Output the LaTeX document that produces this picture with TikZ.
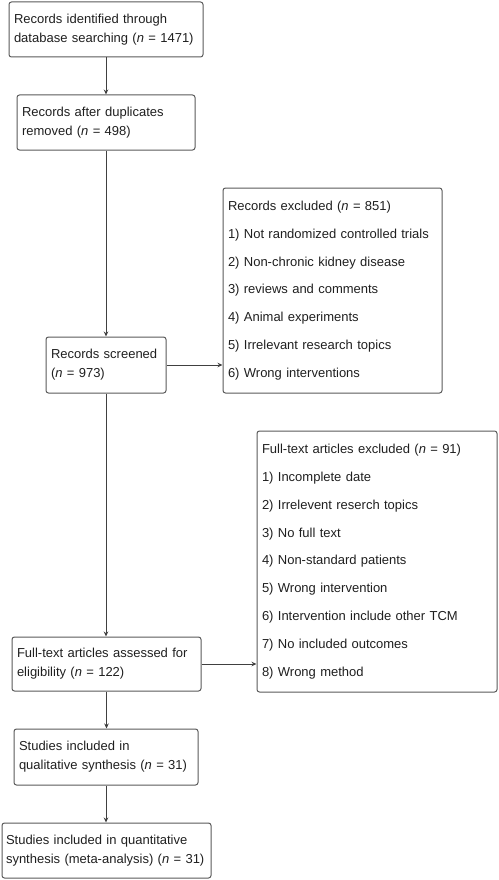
\documentclass[tikz,border=0pt]{standalone}
\usepackage{fontspec}
\setmainfont{Liberation Sans}
\usetikzlibrary{arrows.meta}

\begin{document}
\begin{tikzpicture}[x=1pt, y=-1pt,
    box/.style={draw=black!65, line width=1pt, rounded corners=2.5pt, align=left,
      inner xsep=5pt, inner ysep=0pt, text=black!88, font=\fontsize{13}{19}\selectfont},
    listbox/.style={box, font=\fontsize{13}{27.8}\selectfont},
    arr/.style={draw=black!75, line width=1pt, -{Stealth[length=5pt, width=4.5pt]}}]

  \useasboundingbox (0, 0) rectangle (498, 880);

  \node[box, text width=184, minimum height=55] (ident) at (106, 29.5)
    {Records identified through\\database searching (\textit{n} = 1471)};
  \node[box, text width=168, minimum height=55] (dupl) at (106, 122.5)
    {Records after duplicates\\removed (\textit{n} = 498)};
  \node[box, text width=110, minimum height=56] (screen) at (106, 365)
    {Records screened\\(\textit{n} = 973)};
  \node[listbox, text width=209, minimum height=205] (recexcl) at (332.5, 290.5)
    {Records excluded (\textit{n} = 851)\\
     1) Not randomized controlled trials\\
     2) Non-chronic kidney disease\\
     3) reviews and comments\\
     4) Animal experiments\\
     5) Irrelevant research topics\\
     6) Wrong interventions};

  \node[box, text width=179, minimum height=54] (assess) at (106.5, 664)
    {Full-text articles assessed for\\eligibility (\textit{n} = 122)};
  \node[listbox, text width=230, minimum height=261] (ftexcl) at (377, 561.5)
    {Full-text articles excluded (\textit{n} = 91)\\
     1) Incomplete date\\
     2) Irrelevent reserch topics\\
     3) No full text\\
     4) Non-standard patients\\
     5) Wrong intervention\\
     6) Intervention include other TCM\\
     7) No included outcomes\\
     8) Wrong method};

  \node[box, text width=174, minimum height=56] (quali) at (106, 757)
    {Studies included in\\qualitative synthesis (\textit{n} = 31)};
  \node[box, text width=201, inner xsep=4pt, minimum height=55] (quanti) at (106.5, 850.5)
    {Studies included in quantitative\\synthesis (meta-analysis) (\textit{n} = 31)};

  \draw[arr] (ident.south) -- (ident.south |- dupl.north);
  \draw[arr] (dupl.south) -- (dupl.south |- screen.north);
  \draw[arr] (screen.south) -- (screen.south |- assess.north);
  \draw[arr] (assess.south) -- (assess.south |- quali.north);
  \draw[arr] (quali.south) -- (quali.south |- quanti.north);

  \draw[arr] (screen.east) -- (screen.east -| recexcl.west);
  \draw[arr] (assess.east) -- (assess.east -| ftexcl.west);

\end{tikzpicture}
\end{document}
